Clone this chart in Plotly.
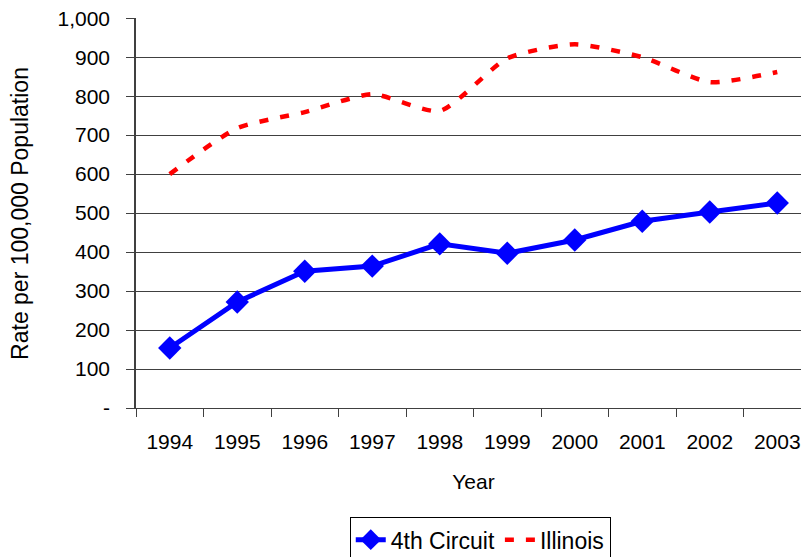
import plotly.graph_objects as go

# ── Data ────────────────────────────────────────────────────────────
YEARS = ["1994", "1995", "1996", "1997", "1998", "1999", "2000", "2001", "2002", "2003"]
CIRCUIT_4TH = [154, 272, 351, 364, 421, 397, 431, 479, 503, 526]
ILLINOIS = [600, 718, 759, 805, 762, 897, 933, 900, 836, 862]

Y_TICKS = [0, 100, 200, 300, 400, 500, 600, 700, 800, 900, 1000]
Y_LABELS = ["-", "100", "200", "300", "400", "500", "600", "700", "800", "900", "1,000"]

FONT = "Liberation Sans, Arial, sans-serif"
AXIS_COLOR = "#404040"

fig = go.Figure()
fig.add_trace(go.Scatter(
    x=YEARS, y=CIRCUIT_4TH, name="4th Circuit",
    mode="lines+markers",
    line=dict(color="#0000FF", width=5),
    marker=dict(symbol="diamond", size=18, color="#0000FF"),
))
fig.add_trace(go.Scatter(
    x=YEARS, y=ILLINOIS, name="Illinois",
    mode="lines",
    line=dict(color="#FF0000", width=4.5, dash="9px,12px", shape="spline", smoothing=0.6),
))

# page body has an 8px margin, so the figure sits offset by 8px
fig.update_layout(
    width=809, height=557,
    paper_bgcolor="white", plot_bgcolor="white",
    font=dict(family=FONT, size=21, color="black"),
    margin=dict(l=128, r=6, t=10, b=157, autoexpand=False),
    showlegend=True,
    legend=dict(
        orientation="h", x=0.51, xanchor="center", y=-0.28, yanchor="top",
        bordercolor="black", borderwidth=1, font=dict(size=23),
        bgcolor="white",
    ),
    xaxis=dict(
        type="category", range=[-0.5, 9.5], automargin=False,
        showline=True, linecolor=AXIS_COLOR, linewidth=1,
        showgrid=False, zeroline=False,
        ticks="outside", ticklen=8, tickcolor=AXIS_COLOR, tickson="boundaries",
        ticklabelstandoff=15,
        title=dict(text="Year", font=dict(size=21), standoff=22),
        tickfont=dict(size=21),
    ),
    yaxis=dict(
        range=[0, 1000.5], tickvals=Y_TICKS, ticktext=Y_LABELS, automargin=False,
        showgrid=True, gridcolor=AXIS_COLOR, gridwidth=1,
        showline=True, linecolor=AXIS_COLOR, linewidth=1.5,
        ticks="outside", ticklen=8, tickcolor=AXIS_COLOR,
        ticklabelstandoff=12, ticklabeloverflow="allow",
        tickfont=dict(size=21),
        zeroline=False,
    ),
    annotations=[dict(
        text="Rate per 100,000 Population", textangle=-90,
        xref="paper", yref="paper", x=-0.172, y=0.5,
        xanchor="center", yanchor="middle", showarrow=False,
        font=dict(size=23),
    )],
)

fig.write_html("out.html")
